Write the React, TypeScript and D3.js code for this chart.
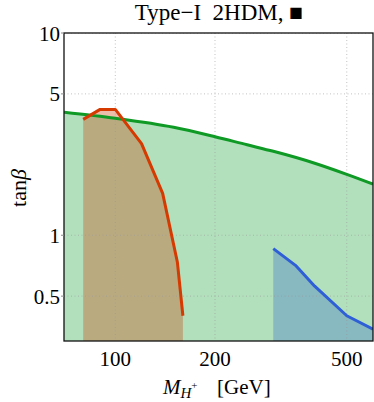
import React from "react";
import * as d3 from "d3";

// green: upper bound curve (whole x range)
const greenMass = [70, 100, 150, 200, 250, 300, 400, 500, 600];
const greenTanb = [4.06, 3.79, 3.42, 3.07, 2.8, 2.6, 2.27, 2.0, 1.79];

// red excluded region
const redMass = [80, 90, 100, 120, 139, 154, 160];
const redTanb = [3.74, 4.19, 4.19, 2.84, 1.61, 0.735, 0.4];

// blue excluded region
const blueMass = [300, 350, 400, 500, 600];
const blueTanb = [0.859, 0.71, 0.56, 0.4, 0.343];

const xTicks = [100, 200, 500];
const yTicks = [10, 5, 1, 0.5];
const yTickLabels = ["10", "5", "1", "0.5"];

const W = 374;
const H = 402;
const margin = { top: 33, right: 1, bottom: 61, left: 64 };

export default function App() {
  const x = d3.scaleLog().domain([70, 600]).range([margin.left, W - margin.right]);
  const y = d3.scaleLog().domain([0.3, 10]).range([H - margin.bottom, margin.top]);
  const [x0, x1] = x.range();
  const [y0, y1] = y.range();

  const pts = (ms: number[], ts: number[]) => ms.map((m, i) => [m, ts[i]] as [number, number]);
  const line = d3.line<[number, number]>().x((d) => x(d[0])).y((d) => y(d[1]));
  const smooth = d3.line<[number, number]>().x((d) => x(d[0])).y((d) => y(d[1])).curve(d3.curveMonotoneX);
  const area = d3
    .area<[number, number]>()
    .x((d) => x(d[0]))
    .y0(y0)
    .y1((d) => y(d[1]));

  const green = pts(greenMass, greenTanb);
  const red = pts(redMass, redTanb);
  const blue = pts(blueMass, blueTanb);
  // red fill continues straight down at its last mass
  const redFill = [...red, [redMass[redMass.length - 1], 0.3] as [number, number]];

  const font = "'Liberation Serif', 'Times New Roman', 'DejaVu Serif', serif";
  const txt = (size: number) => ({ fontFamily: font, fontSize: size + "px" });

  return (
    <div style={{ position: "absolute", left: 0, top: 0 }}>
      <svg width={W} height={H} style={{ display: "block" }}>
        <defs>
          <clipPath id="plot">
            <rect x={x0} y={y1} width={x1 - x0} height={y0 - y1} />
          </clipPath>
        </defs>
        <rect width={W} height={H} fill="#fff" />
        <g clipPath="url(#plot)">
          <path d={area.curve(d3.curveMonotoneX)(green) || ""} fill="#b3e0bc" />
          <path d={area.curve(d3.curveLinear)(redFill) || ""} fill="#c54611" fillOpacity={0.35} />
          <path d={area(blue) || ""} fill="#396ec8" fillOpacity={0.35} />
          {xTicks.map((t) => (
            <line key={"gx" + t} x1={x(t)} x2={x(t)} y1={y1} y2={y0} stroke="#999" strokeOpacity={0.6} strokeDasharray="1,2.5" />
          ))}
          {yTicks.map((t) => (
            <line key={"gy" + t} x1={x0} x2={x1} y1={y(t)} y2={y(t)} stroke="#999" strokeOpacity={0.6} strokeDasharray="1,2.5" />
          ))}
          <path d={smooth(green) || ""} fill="none" stroke="#0e9a25" strokeWidth={3} />
          <path d={line(red) || ""} fill="none" stroke="#d63a00" strokeWidth={3} strokeLinejoin="round" />
          <path d={line(blue) || ""} fill="none" stroke="#2f5fd6" strokeWidth={3} strokeLinejoin="round" />
        </g>
        <rect x={x0} y={y1} width={x1 - x0} height={y0 - y1} fill="none" stroke="#111" strokeWidth={1.3} />
        {yTicks.map((t, i) => (
          <g key={"ty" + t}>
            <line x1={x0 - 3} x2={x0} y1={y(t)} y2={y(t)} stroke="#888" />
            <text x={x0 - 4} y={y(t) + 7.5} textAnchor="end" style={txt(21)}>
              {yTickLabels[i]}
            </text>
          </g>
        ))}
        {xTicks.map((t) => (
          <text key={"tx" + t} x={x(t)} y={y0 + 25} textAnchor="middle" style={txt(21)}>
            {t}
          </text>
        ))}
        <text x={219} y={20} textAnchor="middle" style={txt(23)}>
          {"Type\u2212I\u00A0\u00A02HDM,\u00A0\u25A0"}
        </text>
        <text x={163} y={394} style={txt(21)}>
          <tspan fontStyle="italic">M</tspan>
          <tspan fontStyle="italic" style={txt(15)} dy={4}>H</tspan>
          <tspan style={txt(11)} dy={-9}>+</tspan>
        </text>
        <text x={217} y={394} style={txt(21)}>
          [GeV]
        </text>
        <text transform={`translate(26,${(y0 + y1) / 2 + 1}) rotate(-90)`} textAnchor="middle" style={txt(22)}>
          tan<tspan fontStyle="italic">β</tspan>
        </text>
      </svg>
    </div>
  );
}
